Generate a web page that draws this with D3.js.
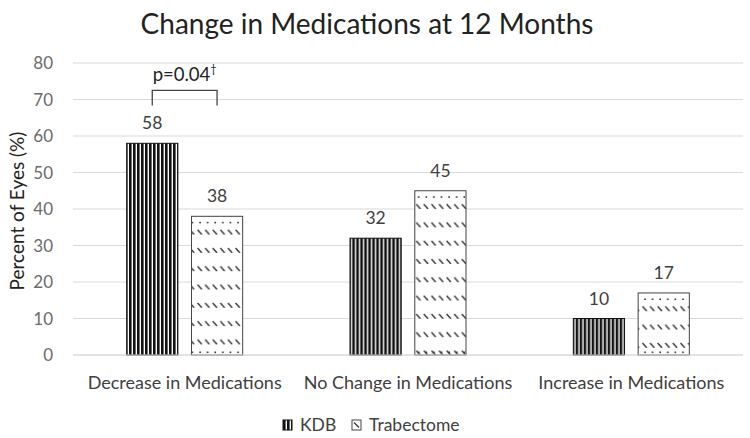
<!DOCTYPE html>
<html><head><meta charset="utf-8">
<script src="https://cdn.jsdelivr.net/npm/d3@7"></script>
<style>body{margin:0;background:#fff}svg{display:block}</style>
</head><body>
<svg id="c" width="750" height="438"></svg>
<script>
const categories = ["Decrease in Medications", "No Change in Medications", "Increase in Medications"];
const seriesNames = ["KDB", "Trabectome"];
const kdbValues = [58, 32, 10];
const trabValues = [38, 45, 17];
const yTicks = [0, 10, 20, 30, 40, 50, 60, 70, 80];
const title = "Change in Medications at 12 Months";
const yTitle = "Percent of Eyes (%)";
const pLabel = "p=0.04";

const FONT = "Lato, 'Open Sans', sans-serif";
const svg = d3.select("#c");
const W = 750, H = 438;
const m = {l: 73, r: 7, t: 63, b: 83};
const x0 = d3.scaleBand().domain(categories).range([m.l, W - m.r]).paddingInner(0).paddingOuter(0);
const x1 = d3.scaleBand().domain(seriesNames).range([x0.bandwidth()/2 - 58, x0.bandwidth()/2 + 58]).paddingInner(0.21);
const y = d3.scaleLinear().domain([0, 80]).range([H - m.b, m.t]);

const defs = svg.append("defs");
// KDB vertical stripes
const pk = defs.append("pattern").attr("id", "pk").attr("patternUnits", "userSpaceOnUse")
  .attr("width", 4).attr("height", 4);
pk.append("rect").attr("width", 4).attr("height", 4).attr("fill", "#fff");
pk.append("rect").attr("x", 0).attr("width", 2.6).attr("height", 4).attr("fill", "#111");

// grid
svg.append("g").selectAll("line").data(yTicks).join("line")
  .attr("x1", m.l).attr("x2", W - m.r)
  .attr("y1", d => y(d)).attr("y2", d => y(d))
  .attr("stroke", "#d9d9d9").attr("stroke-width", 1.2);

// y tick labels
svg.append("g").selectAll("text").data(yTicks).join("text")
  .attr("x", 53).attr("y", d => y(d)).attr("dy", "0.36em")
  .attr("text-anchor", "end").attr("font-family", FONT).attr("font-size", 17)
  .attr("fill", "#6b6b6b").text(d => d);

const data = categories.map((c, i) => ({cat: c, vals: [
  {s: "KDB", v: kdbValues[i]}, {s: "Trabectome", v: trabValues[i]}]}));

const groups = svg.append("g").selectAll("g").data(data).join("g")
  .attr("transform", d => `translate(${x0(d.cat)},0)`);

groups.each(function(d, gi) {
  const g = d3.select(this);
  d.vals.forEach(b => {
    const bx = x1(b.s), bw = x1.bandwidth(), top = y(b.v), bh = y(0) - y(b.v);
    if (b.s === "KDB") {
      g.append("rect").attr("x", bx).attr("y", top).attr("width", bw).attr("height", bh)
        .attr("fill", "url(#pk)").attr("stroke", "#111").attr("stroke-width", 1);
    } else {
      const id = "pt" + gi;
      const ox = x0(d.cat) + bx;
      const p = defs.append("pattern").attr("id", id).attr("patternUnits", "userSpaceOnUse")
        .attr("x", ox).attr("y", top).attr("width", 7.6).attr("height", 18.3);
      p.append("rect").attr("width", 7.6).attr("height", 18.3).attr("fill", "#fff");
      p.append("line").attr("x1", 1.5).attr("y1", 13.5).attr("x2", 5.8).attr("y2", 18.3)
        .attr("stroke", "#333").attr("stroke-width", 1.4);
      const idd = "pd" + gi;
      const pd = defs.append("pattern").attr("id", idd).attr("patternUnits", "userSpaceOnUse")
        .attr("x", ox).attr("y", 0).attr("width", 7.6).attr("height", 400);
      pd.append("rect").attr("x", 3.2).attr("y", 0).attr("width", 1.6).attr("height", 400).attr("fill", "#333");
      g.append("rect").attr("x", bx).attr("y", top).attr("width", bw).attr("height", bh)
        .attr("fill", `url(#${id})`);
      // dot rows near top and bottom
      g.append("rect").attr("x", bx).attr("y", top + 5.5).attr("width", bw).attr("height", 1.6)
        .attr("fill", `url(#${idd})`);
      g.append("rect").attr("x", bx).attr("y", y(0) - 3.5).attr("width", bw).attr("height", 1.6)
        .attr("fill", `url(#${idd})`);
      g.append("rect").attr("x", bx).attr("y", top).attr("width", bw).attr("height", bh)
        .attr("fill", "none").attr("stroke", "#444").attr("stroke-width", 1);
    }
    g.append("text").attr("x", bx + bw/2).attr("y", top - 14)
      .attr("text-anchor", "middle").attr("font-family", FONT).attr("font-size", 17.5)
      .attr("fill", "#404040").text(b.v);
  });
});

// baseline
svg.append("line").attr("x1", m.l).attr("x2", W - m.r).attr("y1", y(0)).attr("y2", y(0))
  .attr("stroke", "#d9d9d9").attr("stroke-width", 1.2);

// category labels
svg.append("g").selectAll("text").data(categories).join("text")
  .attr("x", d => x0(d) + x0.bandwidth()/2).attr("y", 389)
  .attr("text-anchor", "middle").attr("font-family", FONT).attr("font-size", 18)
  .attr("fill", "#404040").text(d => d);

// title
svg.append("text").attr("x", 367).attr("y", 34).attr("text-anchor", "middle")
  .attr("font-family", FONT).attr("font-size", 28).attr("fill", "#222").text(title);

// y title
svg.append("text").attr("transform", `translate(24,211) rotate(-90)`)
  .attr("text-anchor", "middle").attr("font-family", FONT).attr("font-size", 19)
  .attr("fill", "#222").text(yTitle);

// p-value bracket
const bx1 = x0(categories[0]) + x1("KDB") + x1.bandwidth()/2;
const bx2 = x0(categories[0]) + x1("Trabectome") + x1.bandwidth()/2;
const by = y(72.5);
svg.append("path").attr("d", `M${bx1},${by + 15}V${by}H${bx2}V${by + 15}`)
  .attr("fill", "none").attr("stroke", "#444").attr("stroke-width", 1.3);
const pt = svg.append("text").attr("x", (bx1 + bx2)/2).attr("y", by - 9).attr("text-anchor", "middle")
  .attr("font-family", FONT).attr("font-size", 18.5).attr("fill", "#222");
pt.append("tspan").text(pLabel);
pt.append("tspan").attr("font-size", 11).attr("dy", -8).text("†");

// legend
const lg = svg.append("g").attr("transform", "translate(283,420)");
const items = [{n: "KDB", x: 0}, {n: "Trabectome", x: 69}];
items.forEach(it => {
  const g = lg.append("g").attr("transform", `translate(${it.x},0)`);
  if (it.n === "KDB") {
    g.append("rect").attr("width", 9).attr("height", 10).attr("fill", "url(#pk)").attr("stroke", "#111");
  } else {
    g.append("rect").attr("width", 9).attr("height", 10).attr("fill", "#fff").attr("stroke", "#444");
    g.append("line").attr("x1", 2).attr("y1", 2.5).attr("x2", 7).attr("y2", 7.5).attr("stroke", "#333").attr("stroke-width", 1.3);
  }
  g.append("text").attr("x", 17).attr("y", 11).attr("font-family", FONT).attr("font-size", 17.5)
    .attr("fill", "#404040").text(it.n);
});
</script>
</body></html>
